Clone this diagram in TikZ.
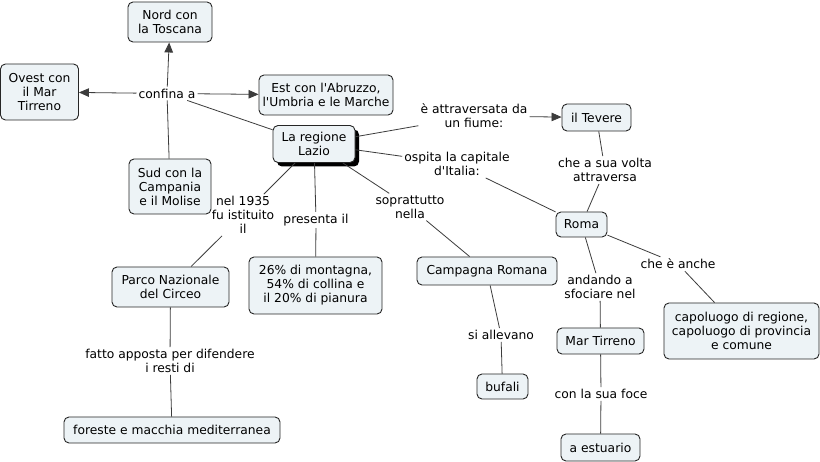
\documentclass[tikz,border=0pt]{standalone}
\usepackage{fontspec}
\setmainfont{DejaVu Sans}[Ligatures=TeXOff]
\usetikzlibrary{arrows.meta,shadows}
\definecolor{boxfill}{RGB}{237,243,246}
\definecolor{linecol}{RGB}{60,60,60}
\begin{document}
\begin{tikzpicture}[x=1pt,y=-1pt,
  every node/.style={font=\fontsize{12.3}{14}\selectfont, align=center},
  concept/.style={draw=black!85, fill=boxfill, rounded corners=5pt, line width=0.9pt, inner sep=0pt},
  linkp/.style={inner sep=2pt},
  conn/.style={draw=linecol, line width=0.8pt},
  arr/.style={conn, -{Triangle[length=10pt,width=8.5pt]}}
]
\useasboundingbox[fill=white] (0,0) rectangle (820,462);

% concepts
\node[concept, minimum width=84pt, minimum height=40pt] (nord) at (170,22) {Nord con\\la Toscana};
\node[concept, minimum width=78pt, minimum height=56pt] (ovest) at (39.5,92) {Ovest con\\il Mar\\Tirreno};
\node[concept, minimum width=134pt, minimum height=40pt] (est) at (326,95) {Est con l'Abruzzo,\\l'Umbria e le Marche};
\node[concept, minimum width=82pt, minimum height=55pt] (sud) at (170,186.5) {Sud con la\\Campania\\e il Molise};
\node[concept, minimum width=82pt, minimum height=37pt,
  drop shadow={shadow xshift=4pt, shadow yshift=-4pt, fill=black, opacity=1}] (lazio) at (314,144) {La regione\\Lazio};
\node[concept, minimum width=69pt, minimum height=27pt] (tevere) at (596.5,117.5) {il Tevere};
\node[concept, minimum width=51pt, minimum height=25pt] (roma) at (581.5,224.5) {Roma};
\node[concept, minimum width=140pt, minimum height=28pt] (campagna) at (487,271) {Campagna Romana};
\node[concept, minimum width=117pt, minimum height=40pt] (parco) at (170.5,287) {Parco Nazionale\\del Circeo};
\node[concept, minimum width=133pt, minimum height=57pt] (perc) at (315.5,285.5) {26\% di montagna,\\54\% di collina e\\il 20\% di pianura};
\node[concept, minimum width=87pt, minimum height=26pt] (mar) at (600.5,341) {Mar Tirreno};
\node[concept, minimum width=155pt, minimum height=56pt] (capo) at (741.5,331) {capoluogo di regione,\\capoluogo di provincia\\e comune};
\node[concept, minimum width=51pt, minimum height=25pt] (bufali) at (502.5,386.5) {bufali};
\node[concept, minimum width=79pt, minimum height=27pt] (estuario) at (600.5,447.5) {a estuario};
\node[concept, minimum width=216pt, minimum height=26pt] (foreste) at (172,430) {foreste e macchia mediterranea};

% linking phrases
\node[linkp] (confina) at (167,93.5) {confina a};
\node[linkp] (attrav) at (474,116) {è attraversata da\\un fiume:};
\node[linkp] (ospita) at (457,164) {ospita la capitale\\d'Italia:};
\node[linkp] (suavolta) at (605,170) {che a sua volta\\attraversa};
\node[linkp] (sopra) at (410,207) {soprattutto\\nella};
\node[linkp] (nel) at (243,215) {nel 1935\\fu istituito\\il};
\node[linkp] (presenta) at (316,220) {presenta il};
\node[linkp] (anche) at (678,264) {che è anche};
\node[linkp] (andando) at (600,287) {andando a\\sfociare nel};
\node[linkp] (allevano) at (501,335) {si allevano};
\node[linkp] (fatto) at (170,361) {fatto apposta per difendere\\i resti di};
\node[linkp] (foce) at (601,394) {con la sua foce};

% connectors
\draw[conn] (lazio) -- (confina);
\draw[arr] (confina) -- (nord);
\draw[arr] (confina) -- (ovest);
\draw[arr] (confina) -- (est);
\draw[conn] (sud) -- (confina);
\draw[conn] (lazio) -- (attrav);
\draw[arr] (attrav) -- (tevere);
\draw[conn] (lazio) -- (ospita);
\draw[conn] (ospita) -- (roma);
\draw[conn] (tevere) -- (suavolta);
\draw[conn] (suavolta) -- (roma);
\draw[conn] (lazio) -- (sopra);
\draw[conn] (sopra) -- (campagna);
\draw[conn] (lazio) -- (nel);
\draw[conn] (nel) -- (parco);
\draw[conn] (lazio) -- (presenta);
\draw[conn] (presenta) -- (perc);
\draw[conn] (roma) -- (anche);
\draw[conn] (anche) -- (capo);
\draw[conn] (roma) -- (andando);
\draw[conn] (andando) -- (mar);
\draw[conn] (campagna) -- (allevano);
\draw[conn] (allevano) -- (bufali);
\draw[conn] (mar) -- (foce);
\draw[conn] (foce) -- (estuario);
\draw[conn] (parco) -- (fatto);
\draw[conn] (fatto) -- (foreste);
\end{tikzpicture}
\end{document}
